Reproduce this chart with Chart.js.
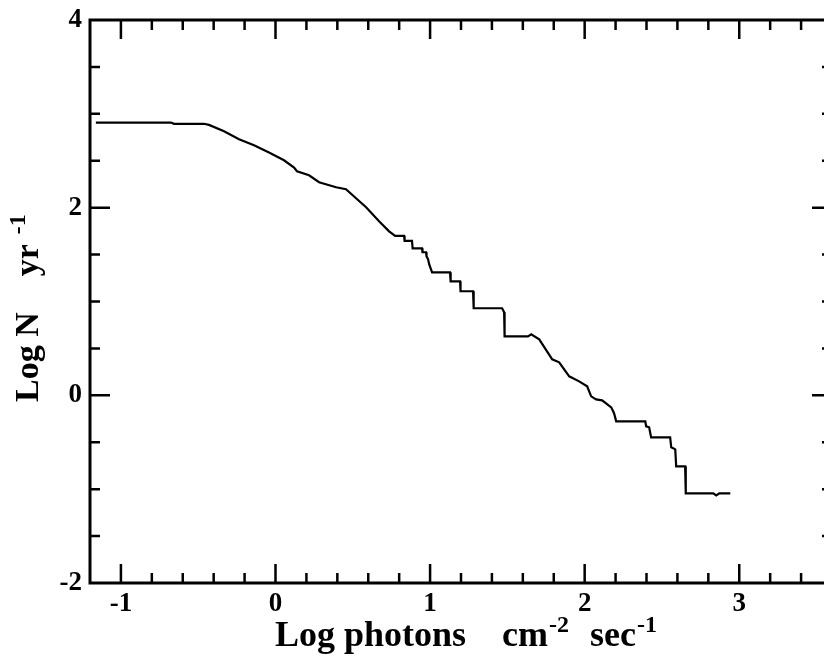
<!DOCTYPE html>
<html>
<head>
<meta charset="utf-8">
<script src="https://cdn.jsdelivr.net/npm/chart.js@4.4.1/dist/chart.umd.min.js"></script>
<style>
    html, body { margin: 0; padding: 0; background: #fff; overflow: hidden; }
    #wrap { width: 832px; height: 656px; }
</style>
</head>
<body>
<div id="wrap"><canvas id="logNChart" width="832" height="656"></canvas></div>
<script>
// Log photons cm^-2 sec^-1 (x) vs Log N yr^-1 (y)
const logFlux = [
    -1.162, -0.676, -0.657, -0.463, -0.430, -0.333, -0.236, -0.139, -0.042, 0.055,
    0.120, 0.139, 0.217, 0.282, 0.392, 0.456, 0.521, 0.586, 0.670, 0.735,
    0.774, 0.832, 0.835, 0.883, 0.887, 0.948, 0.951, 0.974, 0.977, 0.987,
    0.994, 1.006, 1.013, 1.129, 1.133, 1.194, 1.197, 1.278, 1.282, 1.466,
    1.479, 1.482, 1.634, 1.654, 1.706, 1.790, 1.835, 1.900, 1.964, 2.016,
    2.042, 2.074, 2.113, 2.172, 2.190, 2.204, 2.392, 2.398, 2.417, 2.430,
    2.553, 2.560, 2.586, 2.592, 2.650, 2.654, 2.832, 2.851, 2.871, 2.942
];
const logRate = [
    2.907, 2.907, 2.894, 2.894, 2.882, 2.815, 2.729, 2.665, 2.587, 2.505,
    2.428, 2.388, 2.345, 2.271, 2.217, 2.196, 2.100, 2.004, 1.855, 1.748,
    1.700, 1.700, 1.647, 1.647, 1.567, 1.567, 1.525, 1.525, 1.482, 1.450,
    1.397, 1.343, 1.311, 1.311, 1.215, 1.215, 1.109, 1.109, 0.928, 0.928,
    0.885, 0.629, 0.629, 0.650, 0.597, 0.384, 0.352, 0.203, 0.149, 0.096,
    -0.011, -0.043, -0.053, -0.128, -0.190, -0.277, -0.277, -0.330, -0.341, -0.448,
    -0.448, -0.554, -0.576, -0.757, -0.757, -1.045, -1.045, -1.066, -1.045, -1.045
];
const xTickLabels = ['-1', '0', '1', '2', '3'];
const yTickLabels = ['-2', '0', '2', '4'];

const FONT = '"Liberation Serif", "Times New Roman", serif';

function isWhole(v, step) {
    const r = v / step;
    return Math.abs(r - Math.round(r)) < 1e-6;
}

// Frame, inward ticks on all four sides and the axis titles
const framePlugin = {
    id: 'frame',
    afterDraw(chart) {
        const { ctx, chartArea: a, scales } = chart;
        ctx.save();
        ctx.strokeStyle = '#000';
        ctx.lineCap = 'butt';

        ctx.lineWidth = 2.5;
        scales.x.ticks.forEach(t => {
            if (t.value <= scales.x.min + 1e-6 || t.value >= scales.x.max - 1e-6) return;
            const px = scales.x.getPixelForValue(t.value);
            const len = isWhole(t.value, 1) ? 19 : 10;
            ctx.beginPath();
            ctx.moveTo(px, a.bottom); ctx.lineTo(px, a.bottom - len);
            ctx.moveTo(px, a.top); ctx.lineTo(px, a.top + len);
            ctx.stroke();
        });
        scales.y.ticks.forEach(t => {
            if (t.value <= scales.y.min + 1e-6 || t.value >= scales.y.max - 1e-6) return;
            const py = scales.y.getPixelForValue(t.value);
            const len = isWhole(t.value, 2) ? 20 : 10;
            ctx.beginPath();
            ctx.moveTo(a.left, py); ctx.lineTo(a.left + len, py);
            ctx.moveTo(a.right, py); ctx.lineTo(a.right - len, py);
            ctx.stroke();
        });

        ctx.lineWidth = 3;
        ctx.strokeRect(a.left, a.top, a.right - a.left, a.bottom - a.top);

        // x title with superscripts
        ctx.fillStyle = '#000';
        ctx.textBaseline = 'alphabetic';
        ctx.textAlign = 'left';
        const big = 'bold 36px ' + FONT;
        const sup = 'bold 24px ' + FONT;
        const base = 646;
        ctx.font = big;
        ctx.fillText('Log photons', 275, base);
        ctx.fillText('cm', 502, base);
        let w = ctx.measureText('cm').width;
        ctx.font = sup;
        ctx.fillText('-2', 502 + w + 1, base - 14);
        ctx.font = big;
        ctx.fillText('sec', 590, base);
        w = ctx.measureText('sec').width;
        ctx.font = sup;
        ctx.fillText('-1', 590 + w + 1, base - 14);

        // y title, rotated
        ctx.translate(38, 402);
        ctx.rotate(-Math.PI / 2);
        ctx.font = 'bold 34px ' + FONT;
        ctx.fillText('Log N', 0, 0);
        w = ctx.measureText('Log N').width;
        const yrAt = w + 36;
        ctx.fillText('yr', yrAt, 0);
        w = ctx.measureText('yr').width;
        ctx.font = 'bold 24px ' + FONT;
        ctx.fillText('-1', yrAt + w + 10, -13);
        ctx.restore();
    }
};

new Chart(document.getElementById('logNChart'), {
    type: 'line',
    data: {
        datasets: [{
            data: logFlux.map((x, i) => ({ x: x, y: logRate[i] })),
            borderColor: '#000',
            borderWidth: 2.2,
            pointRadius: 0,
            tension: 0,
            fill: false
        }]
    },
    options: {
        responsive: false,
        animation: false,
        layout: { padding: { top: 20, left: 0, right: 0, bottom: 0 } },
        plugins: { legend: { display: false }, tooltip: { enabled: false } },
        scales: {
            x: {
                type: 'linear',
                min: -1.2,
                max: 3.6,
                grid: { display: false, drawTicks: false },
                border: { display: false },
                ticks: {
                    stepSize: 0.2,
                    autoSkip: false,
                    maxRotation: 0,
                    padding: 5,
                    color: '#000',
                    font: { family: FONT, size: 27, weight: 'bold' },
                    callback: (v) => {
                        const s = String(Math.round(v));
                        return isWhole(v, 1) && xTickLabels.includes(s) ? s : '';
                    }
                },
                afterFit: (scale) => {
                    scale.height = 73;
                    scale.paddingLeft = 0;
                    scale.paddingRight = 0;
                }
            },
            y: {
                min: -2,
                max: 4,
                grid: { display: false, drawTicks: false },
                border: { display: false },
                ticks: {
                    stepSize: 0.5,
                    autoSkip: false,
                    padding: 8,
                    color: '#000',
                    font: { family: FONT, size: 27, weight: 'bold' },
                    callback: (v) => {
                        const s = String(Math.round(v));
                        return isWhole(v, 2) && yTickLabels.includes(s) ? s : '';
                    }
                },
                afterFit: (scale) => {
                    scale.width = 90;
                    scale.paddingTop = 0;
                    scale.paddingBottom = 0;
                }
            }
        }
    },
    plugins: [framePlugin]
});
</script>
</body>
</html>
